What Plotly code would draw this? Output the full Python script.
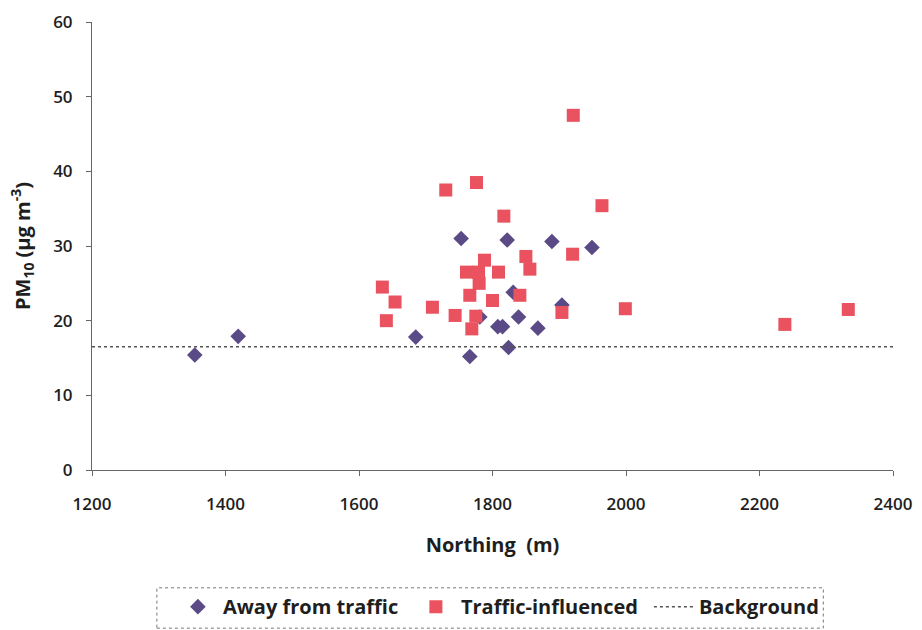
import plotly.graph_objects as go

away_x = [1354, 1419, 1685, 1753, 1766, 1781, 1808, 1815, 1822, 1824, 1831, 1839, 1868, 1889, 1904, 1949]
away_y = [15.4, 17.9, 17.8, 31.0, 15.2, 20.5, 19.2, 19.2, 30.8, 16.4, 23.8, 20.5, 19.0, 30.6, 22.1, 29.8]

traffic_x = [1635, 1654, 1641, 1710, 1744, 1730, 1776, 1761, 1779, 1788, 1780, 1766, 1775, 1769,
             1800, 1809, 1817, 1841, 1850, 1856, 1904, 1920, 1921, 1964, 1999, 2238, 2333]
traffic_y = [24.5, 22.5, 20.0, 21.8, 20.7, 37.5, 38.5, 26.5, 26.5, 28.1, 25.0, 23.4, 20.6, 18.9,
             22.7, 26.5, 34.0, 23.4, 28.6, 26.9, 21.1, 28.9, 47.5, 35.4, 21.6, 19.5, 21.5]

background_x = [1200, 2400]
background_y = [16.5, 16.5]

x_ticks = [1200, 1400, 1600, 1800, 2000, 2200, 2400]
y_ticks = [0, 10, 20, 30, 40, 50, 60]

font_family = "Open Sans, DejaVu Sans, sans-serif"
text_color = "#1e1e1e"

fig = go.Figure()
fig.add_trace(go.Scatter(
    x=away_x, y=away_y, mode="markers", name="Away from traffic",
    marker=dict(symbol="diamond", size=12, color="#5a4a86",
                line=dict(width=0)),
))
fig.add_trace(go.Scatter(
    x=traffic_x, y=traffic_y, mode="markers", name="Traffic-influenced",
    marker=dict(symbol="square", size=13, color="#e9525e",
                line=dict(width=0)),
))
fig.add_trace(go.Scatter(
    x=background_x, y=background_y, mode="lines", name="Background",
    line=dict(color="#555555", width=1.5, dash="dot"),
))

fig.update_layout(
    width=922, height=630,
    margin=dict(l=92, r=29, t=22, b=160, autoexpand=False),
    paper_bgcolor="white", plot_bgcolor="white",
    font=dict(family=font_family, size=17, color=text_color),
    showlegend=True,
    legend=dict(
        orientation="h", x=0.101, xanchor="left", y=-0.305, yanchor="middle",
        font=dict(family=font_family, size=20, color=text_color, weight=700),
        bgcolor="rgba(0,0,0,0)", borderwidth=0,
        itemwidth=40, entrywidth=183, entrywidthmode="pixels", tracegroupgap=0,
    ),
    xaxis=dict(
        range=[1200, 2400], tickvals=x_ticks, ticks="outside", ticklen=5,
        tickcolor="#666666", showline=True, linecolor="#666666", linewidth=1,
        showgrid=False, zeroline=False, ticklabelstandoff=14, automargin=False,
        tickfont=dict(family=font_family, size=17, color=text_color, weight=600),
        title=dict(text="Northing  (m)", standoff=23,
                   font=dict(family=font_family, size=20, color=text_color, weight=700)),
    ),
    yaxis=dict(
        range=[0, 60], tickvals=y_ticks, ticks="outside", ticklen=5,
        tickcolor="#666666", showline=True, linecolor="#666666", linewidth=1,
        showgrid=False, zeroline=False, ticklabelstandoff=10, automargin=False,
        tickfont=dict(family=font_family, size=17, color=text_color, weight=600),
        title=dict(text="PM<sub>10</sub> (µg m<sup>-3</sup>)", standoff=17,
                   font=dict(family=font_family, size=20, color=text_color, weight=700)),
    ),
    shapes=[
        dict(type="rect", xref="paper", yref="paper",
             x0=0.081, x1=0.913, y0=-0.353, y1=-0.263,
             line=dict(color="#777777", width=1, dash="dot"),
             fillcolor="rgba(0,0,0,0)"),
    ],
)

fig.write_html("out.html")
